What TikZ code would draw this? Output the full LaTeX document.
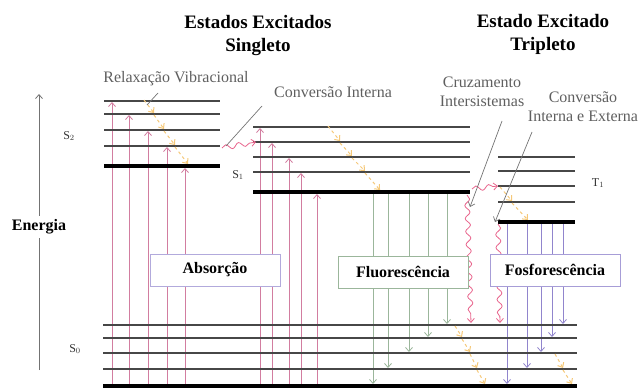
\documentclass[tikz,border=0pt]{standalone}
\usepackage{fontspec}
\setmainfont{Liberation Serif}
\usetikzlibrary{arrows.meta,decorations.pathmorphing}

\definecolor{absc}{RGB}{210,125,160}
\definecolor{fluc}{RGB}{155,182,155}
\definecolor{phoc}{RGB}{145,133,205}
\definecolor{vibc}{RGB}{245,200,120}
\definecolor{wavc}{RGB}{232,100,140}
\definecolor{txtc}{RGB}{95,95,95}

\begin{document}
\begin{tikzpicture}[x=1pt, y=-1pt, >={Straight Barb[length=4pt,width=7pt]},
  lvl/.style = {draw=black!72, line width=1.1pt},
  base/.style = {draw=black, line width=3.8pt},
  absarrow/.style = {->, draw=absc, line width=0.8pt},
  fluarrow/.style = {->, draw=fluc, line width=0.8pt},
  phoarrow/.style = {->, draw=phoc, line width=0.8pt},
  vibarrow/.style = {->, draw=vibc, line width=1pt, dashed},
  wavy/.style = {->, draw=wavc, line width=0.8pt, decorate,
    decoration={snake, amplitude=2.5pt, segment length=13pt, post length=4pt}},
  ptr/.style = {draw=black!55, line width=0.7pt},
  title/.style = {font=\fontsize{19}{23}\selectfont\bfseries, align=center},
  lab/.style = {text=txtc, font=\fontsize{16}{19}\selectfont, align=center},
  lvlname/.style = {text=black!80, font=\fontsize{12}{14}\selectfont},
  main/.style = {draw, fill=white, line width=0.8pt, minimum width=130pt,
    minimum height=32pt, font=\fontsize{16}{18}\selectfont\bfseries}]
\useasboundingbox (0,0) rectangle (640,388);

% absorcao
\draw[absarrow] (112,386) -- (112,102);
\draw[absarrow] (129,386) -- (129,115);
\draw[absarrow] (148,386) -- (148,131);
\draw[absarrow] (167,386) -- (167,147);
\draw[absarrow] (185,386) -- (185,168);
\draw[absarrow] (260,386) -- (260,128);
\draw[absarrow] (272,386) -- (272,143);
\draw[absarrow] (289,386) -- (289,158);
\draw[absarrow] (301,386) -- (301,173);
\draw[absarrow] (317,386) -- (317,194);

% fluorescencia
\draw[fluarrow] (373,192) -- (373,384);
\draw[fluarrow] (388,192) -- (388,368);
\draw[fluarrow] (409,192) -- (409,352);
\draw[fluarrow] (428,192) -- (428,337);
\draw[fluarrow] (447,192) -- (447,324);

% fosforescencia
\draw[phoarrow] (507,222) -- (507,384);
\draw[phoarrow] (527,222) -- (527,368);
\draw[phoarrow] (541,222) -- (541,352);
\draw[phoarrow] (552,222) -- (552,337);
\draw[phoarrow] (563,222) -- (563,324);

% niveis
\draw[lvl] (104,101) -- (220,101);
\draw[lvl] (104,114) -- (220,114);
\draw[lvl] (104,130) -- (220,130);
\draw[lvl] (104,146) -- (220,146);
\draw[base] (104,166) -- (220,166);
\draw[lvl] (253,127) -- (470,127);
\draw[lvl] (253,142) -- (470,142);
\draw[lvl] (253,157) -- (470,157);
\draw[lvl] (253,172) -- (470,172);
\draw[base] (253,192) -- (470,192);
\draw[lvl] (498,157) -- (575,157);
\draw[lvl] (498,171) -- (575,171);
\draw[lvl] (498,186) -- (575,186);
\draw[lvl] (498,202) -- (575,202);
\draw[base] (498,222) -- (575,222);
\draw[lvl] (103,325) -- (577,325);
\draw[lvl] (103,338) -- (577,338);
\draw[lvl] (103,353) -- (577,353);
\draw[lvl] (103,369) -- (577,369);
\draw[base] (103,386) -- (577,386);

% relaxacao vibracional
\draw[vibarrow] (144,100) -- (154,113);
\draw[vibarrow] (154,115) -- (164,129);
\draw[vibarrow] (164,131) -- (175,145);
\draw[vibarrow] (175,147) -- (188,164);
\draw[vibarrow] (328,126) -- (340,141);
\draw[vibarrow] (340,143) -- (352,156);
\draw[vibarrow] (352,158) -- (365,171);
\draw[vibarrow] (365,173) -- (380,190);
\draw[vibarrow] (500,187) -- (512,201);
\draw[vibarrow] (512,203) -- (528,220);
\draw[vibarrow] (455,326) -- (462,337);
\draw[vibarrow] (462,339) -- (470,352);
\draw[vibarrow] (470,354) -- (477,368);
\draw[vibarrow] (477,370) -- (485,384);
\draw[vibarrow] (555,354) -- (563,368);
\draw[vibarrow] (563,370) -- (572,384);

% conversoes nao radiativas
\draw[wavy] (222,148) -- (256,142);
\draw[wavy] (472,189) -- (498,186);
\draw[wavy] (467,195) -- (471,323);
\draw[wavy] (498,224) -- (500,323);

% eixo de energia
\coordinate (15) at (39,370);
\coordinate (16) at (39,94);
\draw[ptr, ->, line width=0.8pt] (15) -- (16);

% textos
\node[title] (1) at (258,36) {Estados Excitados\\Singleto};
\node[title] (2) at (543,34) {Estado Excitado\\Tripleto};
\node[lab] (3) at (176,79) {Relaxação Vibracional};
\node[lab] (4) at (333,92) {Conversão Interna};
\node[lab] (5) at (482,92) {Cruzamento\\Intersistemas};
\node[lab, inner xsep=0pt] (6) at (583,107) {Conversão\\Interna e Externa};
\node[fill=white, font=\fontsize{16}{18}\selectfont\bfseries, inner xsep=0pt] (7) at (39,227) {Energia};
\node[main, draw=phoc!70] (8) at (215,270) {Absorção};
\node[main, draw=fluc] (9) at (403,272) {Fluorescência};
\node[main, draw=phoc!80] (10) at (555,270) {Fosforescência};
\node[lvlname] (11) at (69,136) {S$_2$};
\node[lvlname] (12) at (238,175) {S$_1$};
\node[lvlname] (13) at (75,349) {S$_0$};
\node[lvlname] (14) at (598,183) {T$_1$};

% indicadores
\draw[ptr] (158,93) -- (147,105);
\draw[ptr] (262,106) -- (226,146);
\draw[ptr, ->] (502,121) -- (470,207);
\draw[ptr, ->] (532,132) -- (495,222);
\end{tikzpicture}
\end{document}
